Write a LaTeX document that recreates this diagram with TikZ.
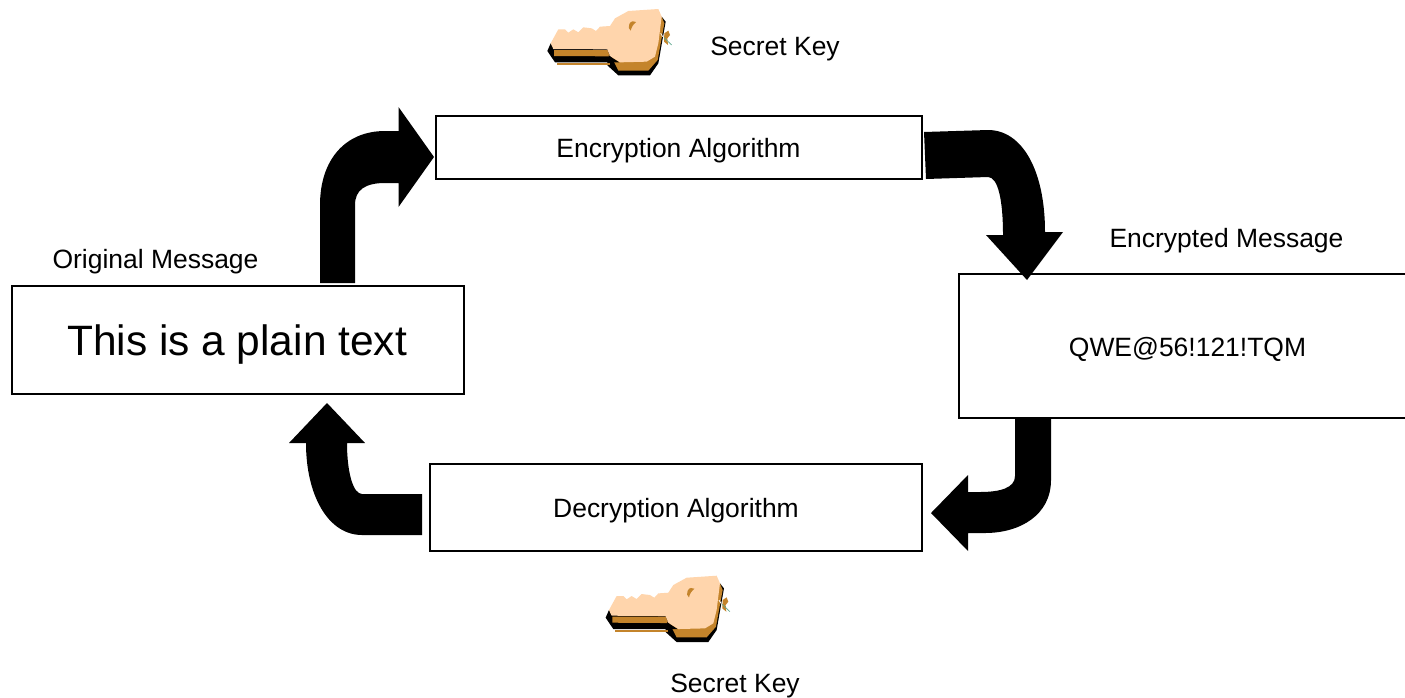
\documentclass[tikz,border=0pt]{standalone}
\usepackage{fontspec}
\setmainfont{Liberation Sans}
\definecolor{keyface}{HTML}{FFD5AC}
\definecolor{keyside}{HTML}{C4842B}
\definecolor{keyleaf}{HTML}{5FA890}
\tikzset{
  px/.style={x=0.75pt,y=-0.75pt},
  msgbox/.style={draw=black,line width=1.5pt,fill=white,inner sep=0pt,anchor=north west},
  label/.style={inner sep=0pt,font=\fontsize{19.85}{24}\selectfont},
  blockarrow/.style={fill=black,draw=none},
  pics/secretkey/.style={code={
    \begin{scope}[x=0.25pt,y=-0.25pt]
    % black silhouette
    \fill[black] (52,153) -- (62,130) -- (232,148) -- (395,50) -- (407,65) -- (385,190) -- (360,226) -- (265,226) -- (232,196) -- (232,187) -- (75,187) -- cycle;
    % brown bevel
    \fill[keyside] (72,150) -- (232,150) -- (240,169) -- (72,168) -- cycle;
    \fill[keyside] (232,150) -- (245,172) -- (265,212) -- (355,212) -- (383,180) -- (403,70) -- (395,50) -- cycle;
    \fill[keyside] (80,189) -- (240,189) -- (240,195) -- (80,195) -- cycle;
    \fill[black] (236,166) -- (240,187) -- (268,187) -- cycle;
    % flat face
    \fill[keyface] (62,130) -- (85,88) -- (105,88) -- (115,98) -- (130,88) -- (145,97) -- (160,82) -- (185,85) -- (198,93) -- (210,80) -- (240,78) -- (255,55) -- (295,33) -- (385,27) -- (395,50) -- (385,130) -- (375,170) -- (350,185) -- (270,187) -- (240,168) -- (232,148) -- (70,147) -- cycle;
    % key hole
    \fill[keyside] (298,72) .. controls (303,62) and (312,62) .. (318,66) .. controls (310,72) and (305,80) .. (302,92) .. controls (296,88) and (294,80) .. (298,72) -- cycle;
    % tassel
    \fill[keyside] (403,100) -- (415,92) -- (420,105) -- (412,115) -- (414,135) -- (402,125) -- cycle;
    \draw[keyleaf,line width=0.5pt] (402,113) -- (425,135);
    \draw[white,line width=0.6pt] (392,100) -- (398,110);
    \end{scope}
  }}
}
\begin{document}
\begin{tikzpicture}[px]
\useasboundingbox (0,0) rectangle (1405,697);
\fill[white] (0,0) rectangle (1405,697);

% boxes
\node[msgbox,minimum width=364.5pt,minimum height=47.25pt] (encrypt) at (435,115) {};
\node[msgbox,minimum width=339pt,minimum height=81pt] (plain) at (10.75,285) {};
\node[msgbox,minimum width=370pt,minimum height=108pt] (cipher) at (957.75,273) {};
\node[msgbox,minimum width=369pt,minimum height=65.25pt] (decrypt) at (429,463) {};

% block arrows
\fill[blockarrow] (320,283) -- (320,205) .. controls (320,160) and (345,131) .. (385,131) -- (398.5,131) -- (398.5,107) -- (434,157) -- (398.5,207) -- (398.5,183) -- (385,183) .. controls (365,183) and (355,190) .. (355,205) -- (355,283) -- cycle;
\fill[blockarrow] (924,132) -- (988,130) .. controls (1022,130) and (1045,170) .. (1045,232) -- (1063,232) -- (1027,280) -- (986,235) -- (1003,235) .. controls (1003,200) and (998,177) .. (988,177) -- (926,179) -- cycle;
\fill[blockarrow] (1015,417) -- (1051,417) -- (1051,480) .. controls (1051,515) and (1020,533) .. (985,533) -- (968,533) -- (968,551) -- (931,513) -- (968,475) -- (968,492) -- (980,492) .. controls (1000,492) and (1015,488) .. (1015,476) -- cycle;
\fill[blockarrow] (422,494) -- (422,535) -- (362,535) .. controls (328,535) and (306,495) .. (306,443) -- (289,443) -- (327,403) -- (365,443) -- (347,443) .. controls (347,472) and (353,494) .. (362,494) -- cycle;

% texts
\node[label] (encryptlabel) at (678.5,151) {Encryption Algorithm};
\node[label] (decryptlabel) at (676,511) {Decryption Algorithm};
\node[label] (cipherlabel) at (1187.5,349) {QWE@56!121!TQM};
\node[inner sep=0pt,font=\fontsize{31.85}{38}\selectfont] (plainlabel) at (237,345) {This is a plain text};
\node[label] (originallabel) at (155.5,262) {Original Message};
\node[label] (encryptedlabel) at (1226.5,241) {Encrypted Message};
\node[label] (topkeylabel) at (775,49) {Secret Key};
\node[label] (bottomkeylabel) at (735,686) {Secret Key};

% keys
\pic at (530,0) {secretkey};
\pic at (588.3,566.7) {secretkey};
\end{tikzpicture}
\end{document}
